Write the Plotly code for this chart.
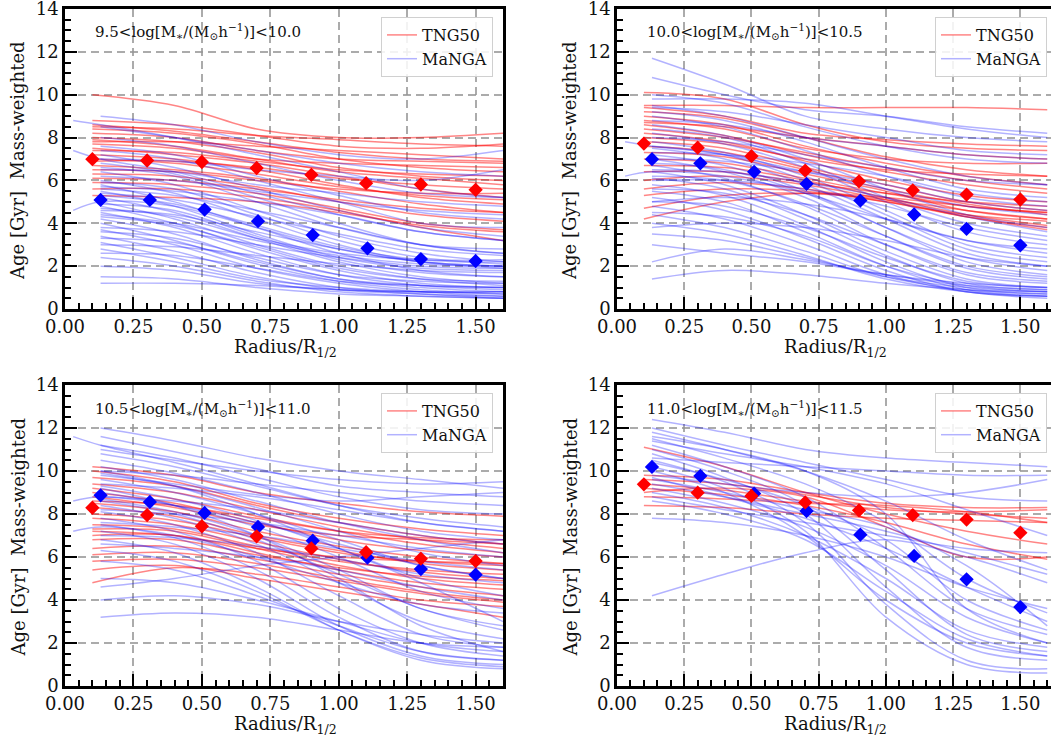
import plotly.graph_objects as go

# ---------------- data ----------------
R_TNG_LINE = [0.1, 0.4, 0.7, 1.0, 1.3, 1.6]
R_MANGA_LINE = [0.13, 0.4, 0.7, 1.0, 1.3, 1.6]
R_MANGA_LINE_EARLY = [0.03, 0.13, 0.4, 0.7, 1.0, 1.3, 1.6]
R_TNG_MED = [0.1, 0.3, 0.5, 0.7, 0.9, 1.1, 1.3, 1.5]
R_MANGA_MED = [0.13, 0.31, 0.51, 0.705, 0.905, 1.105, 1.3, 1.5]

X_TICKS = [0, 0.25, 0.5, 0.75, 1.0, 1.25, 1.5]
X_TICK_LABELS = ["0.00", "0.25", "0.50", "0.75", "1.00", "1.25", "1.50"]
Y_TICKS = [0, 2, 4, 6, 8, 10, 12, 14]

PANEL_LABELS = [
    "9.5&lt;log[M<sub>∗</sub>/(M<sub>⊙</sub>h<sup>−1</sup>)]&lt;10.0",
    "10.0&lt;log[M<sub>∗</sub>/(M<sub>⊙</sub>h<sup>−1</sup>)]&lt;10.5",
    "10.5&lt;log[M<sub>∗</sub>/(M<sub>⊙</sub>h<sup>−1</sup>)]&lt;11.0",
    "11.0&lt;log[M<sub>∗</sub>/(M<sub>⊙</sub>h<sup>−1</sup>)]&lt;11.5",
]

P1_TNG_MED = [6.99, 6.93, 6.86, 6.58, 6.26, 5.87, 5.81, 5.56]
P1_MANGA_MED = [5.09, 5.09, 4.64, 4.10, 3.45, 2.83, 2.33, 2.24]
P2_TNG_MED = [7.72, 7.53, 7.13, 6.46, 5.96, 5.54, 5.34, 5.11]
P2_MANGA_MED = [6.99, 6.80, 6.40, 5.84, 5.06, 4.41, 3.74, 2.97]
P3_TNG_MED = [8.29, 7.95, 7.43, 6.96, 6.40, 6.22, 5.92, 5.81]
P3_MANGA_MED = [8.87, 8.56, 8.05, 7.40, 6.76, 5.97, 5.44, 5.18]
P4_TNG_MED = [9.38, 8.99, 8.84, 8.54, 8.17, 7.95, 7.74, 7.13]
P4_MANGA_MED = [10.19, 9.77, 8.95, 8.14, 7.04, 6.05, 4.96, 3.67]

P1_TNG_LINES = [
    [10.0, 9.5, 8.4, 8.0, 8.0, 8.2], [8.8, 8.6, 8.1, 7.6, 7.5, 7.7],
    [8.6, 8.3, 7.8, 7.3, 7.0, 6.9], [8.4, 8.2, 7.7, 7.0, 6.6, 6.4],
    [8.2, 8.0, 7.4, 7.0, 6.9, 6.8], [8.0, 7.8, 7.3, 6.6, 6.2, 6.0],
    [7.9, 7.6, 7.0, 6.4, 6.1, 5.8], [7.7, 7.5, 7.0, 6.8, 6.7, 6.6],
    [7.5, 7.2, 6.8, 6.2, 5.6, 5.2], [7.4, 7.3, 6.9, 6.5, 6.3, 6.2],
    [7.2, 7.0, 6.5, 5.8, 5.2, 4.9], [7.0, 6.8, 6.3, 5.7, 5.3, 5.1],
    [6.9, 6.9, 6.6, 6.1, 5.8, 5.6], [6.7, 6.5, 6.1, 5.5, 4.9, 4.5],
    [6.5, 6.4, 6.0, 5.6, 5.4, 5.4], [6.3, 6.2, 5.7, 5.0, 4.4, 4.1],
    [6.1, 6.0, 5.6, 5.1, 4.7, 4.5], [5.9, 5.8, 5.4, 4.7, 4.0, 3.7],
    [5.6, 5.6, 5.2, 4.6, 3.8, 3.2], [5.3, 5.2, 5.0, 4.5, 3.9, 3.6],
    [8.5, 8.4, 8.1, 7.9, 7.7, 7.6], [7.8, 7.8, 7.6, 7.4, 7.2, 7.0],
]
P1_MANGA_LINES = [
    [9.0, 8.6, 7.8, 7.2, 7.0, 7.4], [8.5, 8.0, 7.4, 6.8, 6.4, 6.2],
    [8.0, 7.6, 6.8, 6.0, 5.4, 5.2], [7.6, 7.2, 6.2, 5.3, 4.5, 4.2],
    [7.2, 6.6, 5.6, 4.6, 3.8, 3.4], [6.8, 6.3, 5.2, 4.0, 3.0, 2.6],
    [6.4, 5.8, 4.6, 3.4, 2.6, 2.2], [6.0, 5.4, 4.2, 3.0, 2.2, 1.9],
    [5.8, 5.0, 3.8, 2.6, 1.8, 1.5], [5.5, 4.8, 3.5, 2.4, 1.9, 1.8],
    [5.2, 4.5, 3.3, 2.2, 1.5, 1.2], [5.0, 4.2, 3.0, 2.0, 1.4, 1.1],
    [4.8, 4.0, 2.8, 1.8, 1.2, 1.0], [4.5, 3.8, 2.6, 1.6, 1.1, 0.9],
    [4.2, 3.5, 2.3, 1.4, 1.0, 0.8], [4.0, 3.2, 2.1, 1.3, 0.9, 0.7],
    [3.7, 3.0, 1.9, 1.2, 0.8, 0.6], [3.4, 2.7, 1.7, 1.0, 0.7, 0.6],
    [3.1, 2.4, 1.5, 0.9, 0.7, 0.5], [2.8, 2.2, 1.4, 1.0, 0.8, 0.7],
    [2.4, 2.0, 1.3, 0.8, 0.6, 0.5], [2.0, 1.8, 1.2, 0.9, 0.8, 0.8],
    [1.5, 1.4, 1.0, 0.7, 0.6, 0.5], [1.2, 1.2, 1.1, 0.9, 0.8, 0.8],
    [6.2, 6.0, 5.5, 5.0, 4.6, 4.4], [5.6, 5.3, 4.6, 3.8, 3.0, 2.6],
    [4.6, 4.4, 3.6, 2.8, 2.2, 2.0], [3.8, 3.6, 3.0, 2.4, 2.0, 1.9],
    [7.0, 6.9, 6.5, 6.2, 6.0, 6.5], [3.0, 2.9, 2.5, 2.1, 1.8, 1.7],
    [5.4, 5.1, 4.3, 3.5, 2.8, 2.5], [4.4, 4.0, 3.2, 2.5, 2.1, 2.0],
    [6.6, 6.2, 5.0, 3.8, 3.0, 2.8], [5.9, 5.6, 4.4, 3.2, 2.4, 2.1],
    [5.3, 4.9, 3.9, 2.9, 2.3, 2.2], [4.9, 4.6, 3.4, 2.3, 1.7, 1.5],
    [4.3, 3.9, 2.9, 1.9, 1.4, 1.3], [3.6, 3.3, 2.4, 1.6, 1.3, 1.2],
    [3.3, 3.1, 2.2, 1.4, 1.1, 1.0], [2.6, 2.5, 1.9, 1.3, 1.1, 1.0],
    [7.4, 7.0, 6.0, 5.0, 4.0, 3.8], [6.5, 6.4, 5.8, 5.4, 5.0, 4.8],
    [5.7, 5.5, 5.0, 4.4, 3.6, 3.2], [4.7, 4.3, 3.3, 2.6, 2.3, 2.3],
]
P1_MANGA_EARLY = [
    [8.8, 8.6, 8.0, 7.2, 6.4, 5.6, 5.2], [7.4, 7.0, 6.4, 5.4, 4.4, 3.6, 3.2],
    [4.6, 5.0, 4.8, 3.8, 2.8, 2.2, 2.0],
]

P2_TNG_LINES = [
    [10.1, 9.8, 8.6, 7.8, 7.5, 7.4], [9.5, 9.5, 9.4, 9.4, 9.4, 9.3],
    [9.2, 8.9, 8.0, 7.1, 6.5, 6.2], [9.0, 8.6, 7.6, 6.8, 6.2, 5.8],
    [8.8, 8.4, 7.5, 7.0, 6.8, 6.8], [8.6, 8.1, 7.2, 6.4, 5.8, 5.4],
    [8.4, 8.0, 7.3, 6.6, 6.0, 5.6], [8.2, 7.8, 6.9, 6.0, 5.3, 5.0],
    [8.0, 7.7, 7.0, 6.5, 6.3, 6.2], [7.8, 7.5, 6.6, 5.8, 5.0, 4.6],
    [7.6, 7.3, 6.5, 5.6, 4.9, 4.4], [7.3, 7.1, 6.3, 5.5, 4.6, 4.2],
    [7.0, 6.8, 6.1, 5.4, 4.8, 4.5], [6.7, 6.6, 6.0, 5.2, 4.4, 3.9],
    [6.4, 6.4, 5.9, 5.4, 5.0, 4.8], [6.0, 6.2, 5.8, 5.1, 4.3, 3.7],
    [5.6, 5.9, 5.6, 5.0, 4.4, 4.1], [5.3, 5.6, 5.5, 5.0, 4.3, 3.8],
    [4.7, 5.3, 5.4, 5.1, 4.6, 4.2], [4.2, 5.0, 5.4, 5.2, 4.8, 4.5],
    [9.4, 9.0, 8.2, 7.9, 7.7, 7.6], [8.7, 8.5, 8.0, 7.6, 7.2, 7.0],
]
P2_MANGA_LINES = [
    [11.7, 10.5, 9.0, 8.4, 8.0, 7.8], [10.8, 10.0, 9.3, 9.0, 8.5, 8.2],
    [10.0, 9.6, 8.5, 7.6, 7.0, 6.8], [9.5, 9.0, 8.0, 7.0, 6.2, 5.8],
    [9.0, 8.5, 7.4, 6.2, 5.2, 4.8], [8.6, 8.1, 7.0, 5.6, 4.4, 3.8],
    [8.2, 7.7, 6.6, 5.0, 3.6, 3.0], [7.8, 7.3, 6.2, 4.6, 3.0, 2.4],
    [7.5, 7.0, 5.8, 4.2, 2.6, 2.0], [7.2, 6.7, 5.5, 3.8, 2.2, 1.6],
    [7.0, 6.4, 5.2, 3.4, 1.9, 1.4], [6.7, 6.1, 4.8, 3.0, 1.6, 1.2],
    [6.4, 5.8, 4.4, 2.7, 1.4, 1.0], [6.1, 5.6, 4.2, 2.5, 1.2, 0.9],
    [5.8, 5.3, 3.9, 2.2, 1.0, 0.7], [5.5, 5.0, 3.6, 2.0, 0.9, 0.6],
    [5.2, 4.6, 3.3, 1.8, 0.8, 0.6], [4.8, 4.2, 3.0, 1.6, 0.8, 0.5],
    [4.4, 3.8, 2.7, 1.5, 0.9, 0.7], [4.0, 3.5, 2.5, 1.4, 0.8, 0.6],
    [3.5, 3.2, 2.4, 1.5, 1.0, 0.8], [3.0, 2.6, 2.2, 1.6, 1.2, 1.0],
    [2.2, 2.8, 2.3, 1.6, 1.1, 0.9], [1.4, 1.8, 1.6, 1.2, 0.9, 0.8],
    [8.0, 7.8, 7.2, 6.6, 6.0, 5.8], [7.0, 6.9, 6.4, 5.8, 5.0, 4.6],
    [6.0, 6.0, 5.6, 4.8, 3.8, 3.2], [5.0, 5.2, 4.9, 4.2, 3.2, 2.6],
    [9.8, 9.8, 9.6, 9.0, 8.4, 8.0], [6.5, 6.4, 5.9, 5.2, 4.3, 3.6],
    [3.8, 4.0, 3.8, 3.2, 2.4, 2.0], [8.8, 8.6, 8.0, 7.6, 7.2, 7.0],
    [9.2, 8.8, 7.8, 6.6, 5.6, 5.2], [8.4, 8.0, 6.8, 5.2, 4.0, 3.4],
    [7.6, 7.2, 6.0, 4.4, 2.8, 2.2], [6.8, 6.5, 5.4, 3.8, 2.4, 1.8],
    [6.2, 6.0, 4.9, 3.4, 2.0, 1.5], [5.6, 5.4, 4.4, 3.0, 1.7, 1.3],
    [5.0, 4.8, 3.8, 2.4, 1.3, 1.0], [4.5, 4.3, 3.4, 2.0, 1.1, 0.8],
    [7.3, 7.2, 6.8, 6.2, 5.4, 5.0], [9.4, 9.2, 8.6, 8.0, 7.4, 7.2],
]
P2_MANGA_EARLY = [
    [7.8, 7.6, 7.2, 6.4, 5.6, 4.8, 4.4], [6.2, 6.4, 6.2, 5.4, 4.2, 3.2, 2.8],
]

P3_TNG_LINES = [
    [10.2, 9.8, 9.0, 8.5, 8.1, 7.9], [10.0, 9.5, 8.5, 7.8, 7.3, 7.0],
    [9.7, 9.3, 8.4, 7.6, 7.0, 6.6], [9.4, 9.0, 8.2, 7.4, 6.8, 6.4],
    [9.2, 8.7, 7.9, 7.2, 6.6, 6.2], [9.0, 8.5, 7.6, 6.8, 6.3, 6.0],
    [8.8, 8.3, 7.5, 7.0, 6.8, 6.6], [8.5, 8.1, 7.2, 6.5, 6.0, 5.7],
    [8.3, 7.9, 7.0, 6.3, 5.7, 5.4], [8.0, 7.7, 6.9, 6.2, 5.8, 5.6],
    [7.8, 7.5, 6.7, 5.9, 5.3, 5.0], [7.5, 7.3, 6.5, 5.8, 5.4, 5.2],
    [7.3, 7.2, 6.4, 5.6, 5.0, 4.7], [7.0, 7.0, 6.2, 5.4, 4.8, 4.5],
    [6.8, 6.8, 6.1, 5.5, 5.1, 4.9], [6.4, 6.5, 5.9, 5.2, 4.6, 4.2],
    [6.1, 6.2, 5.7, 5.0, 4.4, 4.0], [5.8, 5.9, 5.5, 4.9, 4.3, 3.9],
    [5.4, 5.6, 5.0, 4.4, 3.8, 3.2], [4.8, 5.5, 5.2, 4.6, 4.0, 3.7],
    [7.2, 7.0, 6.4, 6.0, 5.8, 5.7], [8.6, 8.4, 7.8, 7.2, 6.9, 6.8],
]
P3_MANGA_LINES = [
    [12.0, 11.4, 10.6, 10.0, 9.6, 9.2], [11.6, 10.9, 10.1, 9.3, 9.0, 8.8],
    [11.2, 10.6, 9.7, 8.8, 8.2, 8.0], [10.8, 10.2, 9.3, 8.4, 7.8, 7.4],
    [10.5, 9.9, 9.0, 8.0, 7.2, 6.8], [10.2, 9.6, 8.6, 7.6, 6.8, 6.2],
    [9.9, 9.3, 8.3, 7.2, 6.2, 5.6], [9.6, 9.0, 8.0, 6.8, 5.6, 5.0],
    [9.3, 8.7, 7.7, 6.4, 5.0, 4.2], [9.0, 8.4, 7.4, 6.0, 4.4, 3.6],
    [8.7, 8.1, 7.0, 5.4, 3.6, 2.8], [8.4, 7.8, 6.6, 4.8, 3.0, 2.2],
    [8.1, 7.5, 6.2, 4.2, 2.4, 1.8], [7.8, 7.2, 5.8, 3.6, 2.0, 1.4],
    [7.5, 6.9, 5.4, 3.2, 1.6, 1.2], [7.2, 6.6, 5.0, 2.8, 1.4, 1.0],
    [6.8, 6.2, 4.6, 2.6, 1.2, 0.8], [6.3, 5.8, 4.4, 2.6, 1.3, 0.9],
    [5.8, 5.4, 4.2, 2.8, 1.6, 1.2], [5.0, 4.8, 4.0, 3.0, 2.0, 1.6],
    [4.0, 4.2, 3.8, 3.0, 2.4, 2.0], [3.2, 3.4, 3.2, 2.6, 2.0, 1.8],
    [11.0, 10.5, 10.0, 9.6, 9.4, 9.5], [10.0, 9.8, 9.4, 9.0, 8.6, 8.4],
    [9.4, 9.2, 8.8, 8.2, 7.6, 7.2], [8.8, 8.6, 8.2, 7.6, 7.0, 6.6],
    [8.2, 8.0, 7.6, 7.0, 6.4, 6.0], [7.6, 7.4, 7.0, 6.4, 5.8, 5.4],
    [7.0, 6.9, 6.5, 5.9, 5.2, 4.8], [6.6, 6.4, 6.0, 5.4, 4.6, 4.0],
    [4.6, 5.0, 5.6, 6.0, 6.4, 6.8], [9.8, 9.4, 8.9, 8.6, 8.8, 9.0],
    [10.0, 9.3, 8.0, 6.4, 4.8, 3.0], [9.2, 8.4, 7.0, 5.0, 2.8, 1.6],
    [8.6, 8.0, 6.8, 5.2, 3.6, 2.6],
]
P3_MANGA_EARLY = [
    [11.6, 11.2, 10.4, 9.4, 8.4, 7.6, 7.2], [8.6, 8.8, 8.4, 7.6, 6.6, 5.6, 5.0],
    [7.2, 7.4, 7.0, 6.0, 4.8, 3.8, 3.4],
]

P4_TNG_LINES = [
    [11.1, 10.2, 9.0, 8.0, 7.2, 6.6], [9.8, 9.6, 9.0, 8.5, 8.3, 8.3],
    [9.6, 9.4, 8.9, 8.3, 8.0, 7.8], [9.4, 9.1, 8.6, 8.2, 8.1, 8.2],
    [9.2, 8.9, 8.4, 7.6, 6.6, 5.9], [8.8, 8.7, 8.5, 8.4, 8.1, 7.6],
    [8.4, 8.3, 8.0, 7.8, 7.7, 7.6], [9.0, 9.2, 8.8, 7.4, 6.0, 6.0],
]
P4_MANGA_LINES = [
    [12.4, 11.8, 11.0, 10.6, 10.4, 10.2], [12.0, 11.2, 10.4, 9.6, 8.8, 8.6],
    [11.8, 11.0, 10.0, 8.6, 6.8, 5.4], [11.5, 10.6, 9.4, 7.6, 5.0, 3.4],
    [11.2, 10.2, 8.8, 6.4, 3.6, 2.4], [11.0, 10.0, 8.4, 5.4, 2.4, 1.6],
    [10.8, 9.7, 8.0, 4.6, 1.8, 1.2], [10.5, 9.5, 7.6, 3.8, 1.2, 0.8],
    [10.2, 9.2, 7.2, 3.2, 1.0, 0.6], [10.0, 9.0, 7.0, 4.0, 2.0, 1.4],
    [9.7, 8.8, 7.8, 6.4, 4.6, 3.0], [9.4, 8.8, 8.0, 7.2, 6.2, 5.2],
    [9.2, 8.5, 7.4, 5.6, 3.2, 2.0], [9.0, 8.3, 7.0, 5.0, 2.6, 1.8],
    [8.8, 8.2, 7.6, 7.0, 6.4, 6.2], [8.6, 8.0, 6.8, 4.4, 2.2, 1.4],
    [10.6, 10.4, 10.2, 10.0, 9.8, 9.8], [11.4, 10.8, 10.2, 9.4, 8.2, 7.0],
    [7.8, 7.6, 7.0, 6.0, 4.6, 3.6], [4.2, 5.2, 6.2, 6.8, 6.0, 4.8],
    [9.8, 9.4, 9.0, 8.8, 9.0, 9.6], [10.4, 9.6, 8.4, 6.8, 4.0, 2.6],
    [11.6, 11.0, 10.0, 8.0, 3.6, 2.0], [9.6, 9.0, 8.2, 7.4, 5.6, 2.8],
]
P4_MANGA_EARLY = []

PANELS = [
    (P1_TNG_LINES, P1_MANGA_LINES, P1_MANGA_EARLY, P1_TNG_MED, P1_MANGA_MED),
    (P2_TNG_LINES, P2_MANGA_LINES, P2_MANGA_EARLY, P2_TNG_MED, P2_MANGA_MED),
    (P3_TNG_LINES, P3_MANGA_LINES, P3_MANGA_EARLY, P3_TNG_MED, P3_MANGA_MED),
    (P4_TNG_LINES, P4_MANGA_LINES, P4_MANGA_EARLY, P4_TNG_MED, P4_MANGA_MED),
]

# ---------------- layout geometry (pixels) ----------------
W, H = 1051, 741
# (left, right, top, bottom, xmax)
BOXES = [
    (65, 503, 9, 309, 1.6),
    (617, 1051, 9, 309, 1.614),
    (65, 503, 385, 686, 1.6),
    (617, 1051, 385, 686, 1.614),
]
FONT = "DejaVu Serif, Liberation Serif, serif"
RED_LINE = "rgba(255,0,0,0.48)"
BLUE_LINE = "rgba(0,0,255,0.3)"

fig = go.Figure()

for i, (tng, manga, early, tmed, mmed) in enumerate(PANELS):
    n = "" if i == 0 else str(i + 1)
    xa, ya = "x" + n, "y" + n
    leg = "legend" + n
    for j, ys in enumerate(tng):
        fig.add_trace(go.Scatter(
            x=R_TNG_LINE, y=ys, mode="lines", xaxis=xa, yaxis=ya,
            line=dict(color=RED_LINE, width=1.5, shape="spline", smoothing=1.0),
            name="TNG50", showlegend=(j == 0), legend=leg, hoverinfo="skip"))
    for j, ys in enumerate(manga):
        fig.add_trace(go.Scatter(
            x=R_MANGA_LINE, y=ys, mode="lines", xaxis=xa, yaxis=ya,
            line=dict(color=BLUE_LINE, width=1.5, shape="spline", smoothing=1.0),
            name="MaNGA", showlegend=(j == 0), legend=leg, hoverinfo="skip"))
    for ys in early:
        fig.add_trace(go.Scatter(
            x=R_MANGA_LINE_EARLY, y=ys, mode="lines", xaxis=xa, yaxis=ya,
            line=dict(color=BLUE_LINE, width=1.5, shape="spline", smoothing=1.0),
            name="MaNGA", showlegend=False, legend=leg, hoverinfo="skip"))
    fig.add_trace(go.Scatter(
        x=R_MANGA_MED, y=mmed, mode="markers", xaxis=xa, yaxis=ya,
        marker=dict(symbol="diamond", size=11, color="#0000ff", line=dict(width=0)),
        showlegend=False))
    fig.add_trace(go.Scatter(
        x=R_TNG_MED, y=tmed, mode="markers", xaxis=xa, yaxis=ya,
        marker=dict(symbol="diamond", size=11, color="#ff0000", line=dict(width=0)),
        showlegend=False))

layout = dict(
    width=W, height=H, autosize=False,
    margin=dict(l=0, r=0, t=0, b=0, pad=0),
    paper_bgcolor="white", plot_bgcolor="white",
    font=dict(family=FONT, color="#111111"),
)

annotations = []
for i, (l, r, t, b, xmax) in enumerate(BOXES):
    n = "" if i == 0 else str(i + 1)
    left = i in (0, 2)
    axis_common = dict(
        showline=True, linecolor="black", linewidth=2.5,
        ticks="inside", ticklen=12, tickwidth=2, tickcolor="black",
        showgrid=True, gridcolor="rgba(150,150,150,0.8)", gridwidth=1.8,
        griddash="8px,5px", zeroline=False, automargin=False,
        ticklabeloverflow="allow",
        tickfont=dict(family=FONT, size=18, color="#111111"),
    )
    layout["xaxis" + n] = dict(
        axis_common, domain=[l / W, r / W], range=[0, xmax],
        anchor="y" + n, mirror=True,
        tickvals=X_TICKS, ticktext=X_TICK_LABELS,
        minor=dict(ticks="inside", ticklen=6, tickwidth=1.5, tickcolor="black",
                   dtick=0.05, tick0=0, showgrid=False),
    )
    layout["yaxis" + n] = dict(
        axis_common, domain=[1 - b / H, 1 - t / H], range=[0, 14],
        anchor="x" + n, mirror=left,
        tickvals=Y_TICKS,
        minor=dict(ticks="inside", ticklen=6, tickwidth=1.5, tickcolor="black",
                   dtick=0.5, tick0=0, showgrid=False),
    )
    legend_right = (r - 10) / W if left else 1047 / W
    layout["legend" + n] = dict(
        x=legend_right, xanchor="right", y=1 - (t + 8) / H, yanchor="top",
        bgcolor="rgba(255,255,255,0.85)", bordercolor="#d0d0d0", borderwidth=1,
        font=dict(family=FONT, size=16, color="#111111"),
        itemwidth=30, tracegroupgap=0,
    )
    # panel label
    annotations.append(dict(
        text=PANEL_LABELS[i], xref="paper", yref="paper",
        x=(l + 28) / W, y=1 - (t + 23) / H, xanchor="left", yanchor="middle",
        showarrow=False, font=dict(family=FONT, size=15, color="#111111")))
    # x title
    annotations.append(dict(
        text="Radius/R<sub>1/2</sub>", xref="paper", yref="paper",
        x=((l + r) / 2 + 1) / W, y=1 - (b + 39) / H, xanchor="center", yanchor="middle",
        showarrow=False, font=dict(family=FONT, size=18, color="#111111")))
    # y title
    annotations.append(dict(
        text="Age [Gyr]  Mass-weighted", xref="paper", yref="paper",
        x=(l - 47) / W, y=1 - ((t + b) / 2 + 2) / H, xanchor="center", yanchor="middle",
        textangle=-90, showarrow=False,
        font=dict(family=FONT, size=18, color="#111111")))

layout["annotations"] = annotations
fig.update_layout(**layout)
fig.write_html("out.html")
